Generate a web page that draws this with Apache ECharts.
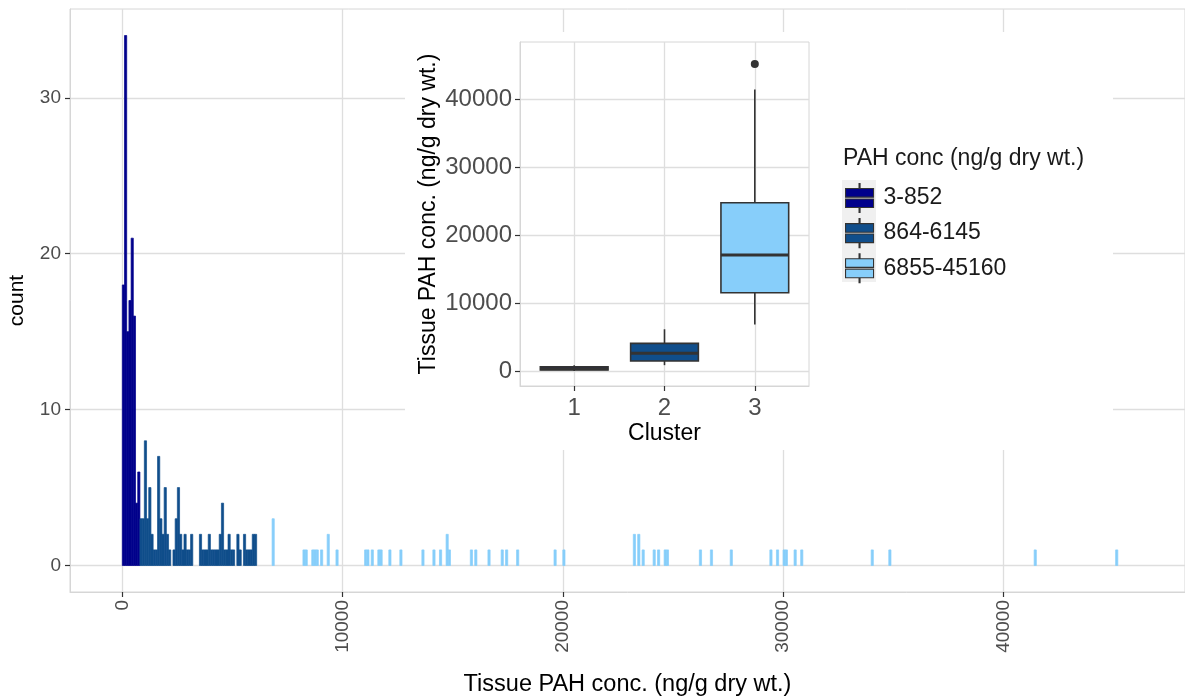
<!DOCTYPE html>
<html>
<head>
<meta charset="utf-8">
<script src="https://cdn.jsdelivr.net/npm/echarts@6/dist/echarts.min.js"></script>
<style>
  html, body { margin: 0; padding: 0; background: #ffffff; }
  #chart { width: 1185px; height: 697px; }
</style>
</head>
<body>
<div id="chart"></div>
<script>
// ---- Data ----
const binWidth = 100;
const clusterNames = ['3-852', '864-6145', '6855-45160'];
const clusterColors = ['#00008B', '#104E8B', '#87CEFA'];

// histogram bins: [bin start, count]
const cluster1Bins = [[0,18],[100,34],[200,15],[300,17],[400,21],[500,16],[600,4],[700,6]];
const cluster2Bins = [[800,3],[900,3],[1000,8],[1100,3],[1200,5],[1300,2],[1400,1],[1500,1],[1600,7],[1700,3],
  [1800,2],[1900,5],[2000,2],[2100,1],[2300,1],[2400,3],[2500,5],[2600,2],[2700,1],[2800,2],[2900,1],[3000,1],
  [3100,2],[3500,2],[3600,1],[3700,1],[3800,1],[3900,2],[4000,1],[4100,1],[4200,1],[4300,1],[4400,2],[4500,4],
  [4600,1],[4700,1],[4800,2],[4900,1],[5000,1],[5200,2],[5300,1],[5500,2],[5600,1],[5700,1],[5800,1],[5900,2],[6000,2]];
const cluster3Bins = [[6800,3],[8200,1],[8300,1],[8600,1],[8700,1],[8800,1],[9000,1],[9300,2],[9700,1],
  [11000,1],[11100,1],[11300,1],[11600,1],[11700,1],[12100,1],[12600,1],[13600,1],[14100,1],[14400,1],
  [14700,2],[14800,1],[15800,1],[16000,1],[16600,1],[17200,1],[17400,1],[17900,1],[19600,1],[20000,1],
  [23200,2],[23400,2],[23600,1],[24100,1],[24300,1],[24600,1],[24700,1],[26200,1],[26700,1],[27600,1],
  [29400,1],[29700,1],[30000,1],[30100,1],[30500,1],[30800,1],[34000,1],[34800,1],[41400,1],[45100,1]];

// box plot stats per cluster: [cluster, lower whisker, Q1, median, Q3, upper whisker]
const boxStats = [
  [1, 3, 150, 330, 620, 852],
  [2, 864, 1470, 2600, 4070, 6145],
  [3, 6855, 11520, 17060, 24750, 41420]
];
const boxOutliers = [[3, 45160]];

// tick values
const mainXTicks = [0, 10000, 20000, 30000, 40000];
const mainYTicks = [0, 10, 20, 30];
const insetXTicks = [1, 2, 3];
const insetYTicks = [0, 10000, 20000, 30000, 40000];

// ---- Styling ----
const FONT = 'Liberation Sans, Arial, sans-serif';
const GRID_COLOR = '#DEDEDE';
const BORDER_COLOR = '#D6D6D6';
const LABEL_COLOR = '#4D4D4D';
const TICK_COLOR = '#333333';

function histRender(color) {
  return function (params, api) {
    const start = api.value(0);
    const count = api.value(1);
    const p0 = api.coord([start, count]);
    const p1 = api.coord([start + binWidth, 0]);
    return {
      type: 'rect',
      shape: { x: p0[0], y: p0[1], width: p1[0] - p0[0], height: p1[1] - p0[1] },
      style: { fill: color, stroke: color, lineWidth: 0.7 }
    };
  };
}

function boxRender(params, api) {
  const x = api.value(0);
  const lo = api.value(1), q1 = api.value(2), med = api.value(3), q3 = api.value(4), hi = api.value(5);
  const half = 0.375;
  const color = clusterColors[params.dataIndex];
  const pTopLeft = api.coord([x - half, q3]);
  const pBotRight = api.coord([x + half, q1]);
  const pMedL = api.coord([x - half, med]);
  const pMedR = api.coord([x + half, med]);
  const pHi = api.coord([x, hi]);
  const pQ3 = api.coord([x, q3]);
  const pQ1 = api.coord([x, q1]);
  const pLo = api.coord([x, lo]);
  const lineStyle = { stroke: '#333333', lineWidth: 1.6 };
  return {
    type: 'group',
    children: [
      { type: 'line', shape: { x1: pHi[0], y1: pHi[1], x2: pQ3[0], y2: pQ3[1] }, style: lineStyle },
      { type: 'line', shape: { x1: pQ1[0], y1: pQ1[1], x2: pLo[0], y2: pLo[1] }, style: lineStyle },
      { type: 'rect', shape: { x: pTopLeft[0], y: pTopLeft[1], width: pBotRight[0] - pTopLeft[0], height: pBotRight[1] - pTopLeft[1] },
        style: { fill: color, stroke: '#333333', lineWidth: 1.6 } },
      { type: 'line', shape: { x1: pMedL[0], y1: pMedL[1], x2: pMedR[0], y2: pMedR[1] }, style: { stroke: '#333333', lineWidth: 3 } }
    ]
  };
}

const legendIcon = 'path://M13.5,0 L14.5,0 L14.5,5 L13.5,5 Z M0,5 L28,5 L28,13.6 L0,13.6 Z M0,15.4 L28,15.4 L28,24 L0,24 Z M13.5,24 L14.5,24 L14.5,29 L13.5,29 Z';

const axisLineStyle = { show: true, onZero: false, lineStyle: { color: BORDER_COLOR, width: 1 } };

const chart = echarts.init(document.getElementById('chart'), null, { renderer: 'canvas' });

const option = {
  backgroundColor: '#ffffff',
  animation: false,
  textStyle: { fontFamily: FONT },
  title: {
    text: 'PAH conc (ng/g dry wt.)',
    left: 843, top: 147,
    padding: 0,
    z: 10,
    textStyle: { fontSize: 23, fontWeight: 'normal', color: '#1A1A1A', fontFamily: FONT }
  },
  legend: {
    orient: 'vertical',
    left: 845, top: 183,
    itemWidth: 28, itemHeight: 29, itemGap: 5,
    padding: 0,
    icon: legendIcon,
    z: 10,
    data: clusterNames,
    itemStyle: { borderColor: '#333333', borderWidth: 1.1 },
    textStyle: { fontSize: 23, color: '#1A1A1A', fontFamily: FONT, padding: [0, 0, 0, 5] },
    selectedMode: false
  },
  graphic: [
    { type: 'rect', z: 5, silent: true, shape: { x: 405, y: 32, width: 708, height: 418 }, style: { fill: '#ffffff' } },
    { type: 'rect', z: 6, silent: true, shape: { x: 842, y: 180, width: 34, height: 102 }, style: { fill: '#F0F0F0' } }
  ],
  grid: [
    { left: 70, right: 0, top: 9, bottom: 105, show: true, borderColor: BORDER_COLOR, borderWidth: 1,
      backgroundColor: 'transparent', outerBoundsMode: 'none', containLabel: false },
    { left: 520, top: 42, width: 289, height: 344, show: true, borderColor: BORDER_COLOR, borderWidth: 1,
      backgroundColor: 'transparent', z: 6, outerBoundsMode: 'none', containLabel: false }
  ],
  xAxis: [
    {
      type: 'value', gridIndex: 0, min: -2375, max: 48250,
      axisLine: axisLineStyle,
      axisTick: { show: true, customValues: mainXTicks, length: 5, lineStyle: { color: TICK_COLOR, width: 1.2 } },
      axisLabel: { customValues: mainXTicks, rotate: 90, fontSize: 19, color: LABEL_COLOR, margin: 8, fontFamily: FONT,
        formatter: v => String(v) },
      splitLine: { show: true, lineStyle: { color: GRID_COLOR, width: 1.3 } },
      name: 'Tissue PAH conc. (ng/g dry wt.)', nameLocation: 'middle', nameGap: 81,
      nameTextStyle: { fontSize: 23.5, color: '#000000', fontFamily: FONT }
    },
    {
      type: 'value', gridIndex: 1, min: 0.4, max: 3.6, z: 7,
      axisLine: axisLineStyle,
      axisTick: { show: true, customValues: insetXTicks, length: 5, lineStyle: { color: TICK_COLOR, width: 1.2 } },
      axisLabel: { customValues: insetXTicks, fontSize: 24, color: LABEL_COLOR, margin: 10, fontFamily: FONT,
        formatter: v => String(v) },
      splitLine: { show: true, lineStyle: { color: GRID_COLOR, width: 1.3 } },
      name: 'Cluster', nameLocation: 'middle', nameGap: 36,
      nameTextStyle: { fontSize: 23, color: '#000000', fontFamily: FONT }
    }
  ],
  yAxis: [
    {
      type: 'value', gridIndex: 0, min: -1.7, max: 35.7,
      axisLine: axisLineStyle,
      axisTick: { show: true, customValues: mainYTicks, length: 5, lineStyle: { color: TICK_COLOR, width: 1.2 } },
      axisLabel: { customValues: mainYTicks, fontSize: 19, color: LABEL_COLOR, margin: 9, fontFamily: FONT,
        formatter: v => String(v) },
      splitLine: { show: true, lineStyle: { color: GRID_COLOR, width: 1.3 } },
      name: 'count', nameLocation: 'middle', nameGap: 42, nameRotate: 90,
      nameTextStyle: { fontSize: 21, color: '#000000', fontFamily: FONT }
    },
    {
      type: 'value', gridIndex: 1, min: -2200, max: 48400, z: 7,
      axisLine: axisLineStyle,
      axisTick: { show: true, customValues: insetYTicks, length: 5, lineStyle: { color: TICK_COLOR, width: 1.2 } },
      axisLabel: { customValues: insetYTicks, fontSize: 24, color: LABEL_COLOR, margin: 8, fontFamily: FONT,
        formatter: v => String(v) },
      splitLine: { show: true, lineStyle: { color: GRID_COLOR, width: 1.3 } },
      name: 'Tissue PAH conc. (ng/g dry wt.)', nameLocation: 'middle', nameGap: 80, nameRotate: 90,
      nameTextStyle: { fontSize: 23, color: '#000000', fontFamily: FONT }
    }
  ],
  series: [
    { type: 'custom', name: clusterNames[0], xAxisIndex: 0, yAxisIndex: 0, data: cluster1Bins,
      encode: { x: 0, y: 1 }, renderItem: histRender(clusterColors[0]), itemStyle: { color: clusterColors[0] }, z: 2 },
    { type: 'custom', name: clusterNames[1], xAxisIndex: 0, yAxisIndex: 0, data: cluster2Bins,
      encode: { x: 0, y: 1 }, renderItem: histRender(clusterColors[1]), itemStyle: { color: clusterColors[1] }, z: 2 },
    { type: 'custom', name: clusterNames[2], xAxisIndex: 0, yAxisIndex: 0, data: cluster3Bins,
      encode: { x: 0, y: 1 }, renderItem: histRender(clusterColors[2]), itemStyle: { color: clusterColors[2] }, z: 2 },
    { type: 'custom', name: 'boxes', xAxisIndex: 1, yAxisIndex: 1, data: boxStats,
      encode: { x: 0, y: [1, 2, 3, 4, 5] }, renderItem: boxRender, z: 8 },
    { type: 'scatter', name: 'outliers', xAxisIndex: 1, yAxisIndex: 1, data: boxOutliers,
      symbol: 'circle', symbolSize: 8, itemStyle: { color: '#333333', opacity: 1 }, z: 8 }
  ]
};

chart.setOption(option);
</script>
</body>
</html>
